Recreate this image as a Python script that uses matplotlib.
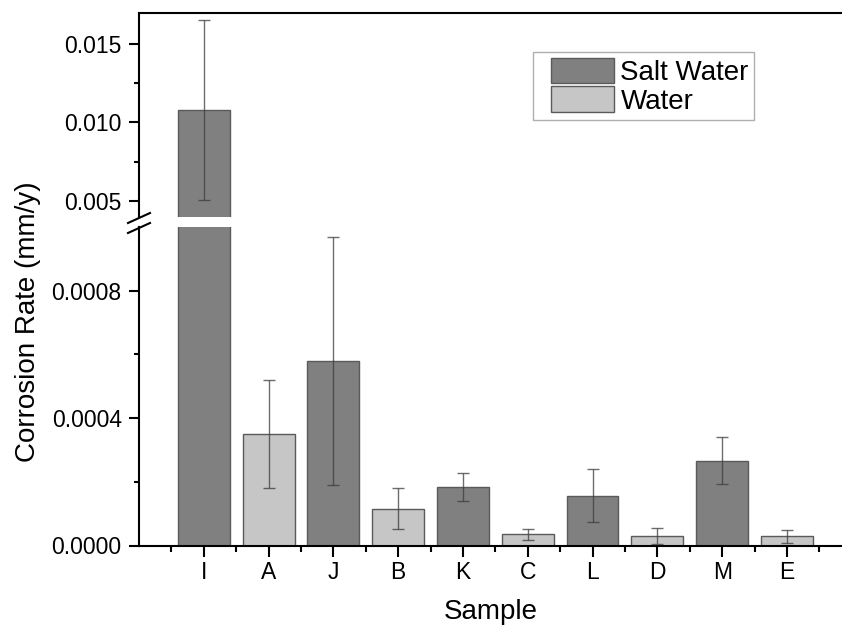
import numpy as np
import matplotlib
matplotlib.use("Agg")
import matplotlib.pyplot as plt
from matplotlib.patches import Patch, Rectangle
from matplotlib.legend_handler import HandlerPatch

plt.rcParams["font.family"] = ["Liberation Sans", "DejaVu Sans"]

# data
samples = ["I", "A", "J", "B", "K", "C", "L", "D", "M", "E"]
rates = [0.0108, 0.00035, 0.00058, 0.000116, 0.000183, 0.000035, 0.000156, 0.000029, 0.000266, 0.000029]
errors = [0.0057, 0.00017, 0.00039, 0.000063, 0.000044, 0.000018, 0.000083, 0.000025, 0.000074, 0.00002]
medium = ["salt", "water", "salt", "water", "salt", "water", "salt", "water", "salt", "water"]

SALT = "#808080"
WATER = "#c6c6c6"
EDGE = "#5a5a5a"
ERR = "#3c3c3c"

W, H = 842, 628
fig = plt.figure(figsize=(W / 100, H / 100), dpi=100)

left = 139 / W
width = 1 - left
ax_lo = fig.add_axes([left, 1 - 545.5 / H, width, (545.5 - 227) / H])
ax_hi = fig.add_axes([left, 1 - 217 / H, width, (217 - 13) / H])

x = np.arange(1, len(samples) + 1)
colors = [SALT if m == "salt" else WATER for m in medium]

for ax in (ax_lo, ax_hi):
    ax.bar(x, rates, width=0.8, color=colors, edgecolor=EDGE, linewidth=1.0, zorder=2)
    ax.errorbar(x, rates, yerr=errors, fmt="none", ecolor=ERR, elinewidth=1.0,
                capsize=4, capthick=1.0, alpha=0.75, zorder=3)
    ax.set_xlim(0, 10.85)
    ax.spines["right"].set_visible(False)
    for s in ax.spines.values():
        s.set_linewidth(1.5)
    ax.tick_params(axis="y", which="major", direction="out", length=7.5, width=1.5,
                   labelsize=16.5, pad=5)
    ax.tick_params(axis="y", which="minor", direction="out", length=3.8, width=1.5)

ax_lo.set_ylim(0, 0.001)
ax_lo.set_yticks([0.0, 0.0004, 0.0008])
ax_lo.set_yticklabels(["0.0000", "0.0004", "0.0008"])
ax_lo.set_yticks([0.0002, 0.0006], minor=True)
ax_lo.spines["top"].set_visible(False)
ax_lo.set_xticks(x)
ax_lo.set_xticklabels(samples)
ax_lo.set_xticks(np.arange(0.5, 11, 1.0), minor=True)
ax_lo.tick_params(axis="x", which="major", direction="out", length=8, width=1.5,
                  labelsize=16.5, pad=3)
ax_lo.tick_params(axis="x", which="minor", direction="out", length=4.3, width=1.5)

ax_hi.set_ylim(0.004, 0.01695)
ax_hi.set_yticks([0.005, 0.010, 0.015])
ax_hi.set_yticklabels(["0.005", "0.010", "0.015"])
ax_hi.set_yticks([0.0075, 0.0125], minor=True)
ax_hi.spines["bottom"].set_visible(False)
ax_hi.set_xticks([])
ax_hi.tick_params(axis="x", which="both", bottom=False, labelbottom=False)

# break marks on the left axis
for yb in (218, 228):
    fig.add_artist(plt.Line2D([128 / W, 150 / W], [1 - (yb + 5) / H, 1 - (yb - 5) / H],
                              color="black", lw=1.5, transform=fig.transFigure))

fig.text(28 / W, 1 - 322 / H, "Corrosion Rate (mm/y)", rotation=90,
         ha="center", va="center", fontsize=20)
fig.text(491 / W, 1 - 612 / H, "Sample", ha="center", va="center", fontsize=20)


# legend swatches sit a bit right of the frame's left edge, as in the reference
def swatch(legend, orig_handle, xdescent, ydescent, width, height, fontsize):
    off = 8.6
    return Rectangle((-xdescent + off, -ydescent), width - off, height)


handles = [Patch(facecolor=SALT, edgecolor=EDGE, label="Salt Water"),
           Patch(facecolor=WATER, edgecolor=EDGE, label="Water")]
leg = fig.legend(handles=handles, loc="upper left", bbox_to_anchor=(533 / W, 1 - 52 / H),
                 fontsize=20, frameon=True, fancybox=False, handlelength=2.7,
                 handleheight=1.05, labelspacing=0.02, handletextpad=0.25,
                 borderpad=0.2, borderaxespad=0,
                 handler_map={Patch: HandlerPatch(patch_func=swatch)})
leg.get_frame().set_edgecolor("#9a9a9a")
leg.get_frame().set_linewidth(1.0)

fig.savefig("out.png", dpi=100)
